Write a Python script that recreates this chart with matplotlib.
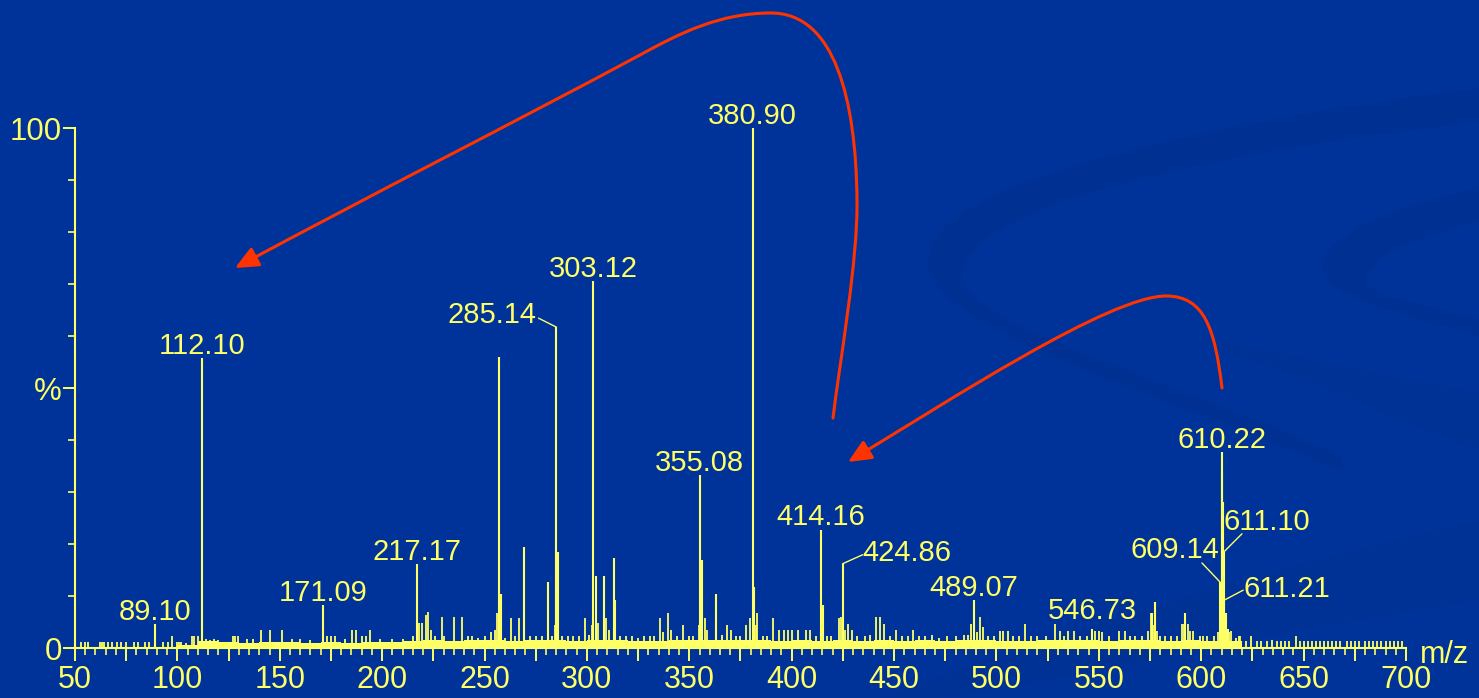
import matplotlib
matplotlib.use('Agg')
import matplotlib.pyplot as plt
from matplotlib.path import Path
from matplotlib.patches import PathPatch, FancyArrowPatch
from matplotlib.ticker import MultipleLocator, FuncFormatter

# main peaks (m/z, relative intensity %)
peak_mz = [89.10, 112.10, 171.09, 217.17, 257.1, 258.1, 269.1, 280.9, 285.14, 286.1,
           303.12, 304.2, 308.4, 313.1, 313.8, 355.08, 356.0, 363.0, 380.90, 381.5,
           414.16, 415.1, 424.86, 489.07, 546.73, 576.2, 577.4, 592.3,
           609.14, 609.9, 610.22, 610.6, 611.10, 611.21, 611.9, 612.9]
peak_int = [4.7, 55.8, 8.3, 16.2, 56.0, 10.4, 19.4, 12.6, 61.7, 18.5,
            70.6, 13.9, 13.9, 17.3, 9.2, 33.3, 17.0, 10.4, 100.0, 11.7,
            22.7, 8.3, 16.2, 9.2, 3.6, 6.7, 8.8, 6.8,
            12.7, 34.0, 37.7, 28.0, 18.5, 9.2, 6.8, 3.6]

# labelled peaks
label_mz = [89.10, 112.10, 171.09, 217.17, 285.14, 303.12, 355.08, 380.90, 414.16,
            424.86, 489.07, 546.73, 609.14, 610.22, 611.10, 611.21]

# small noise peaks
noise_mz = [53, 55, 56.5, 62, 63, 64, 66, 68, 70.5, 72.5, 75, 79, 81, 84, 86, 93, 95.5, 97.5,
            100, 101, 102, 104, 107, 108, 110, 114, 116, 118, 120, 127, 128, 129.5, 134, 137,
            141, 145, 151, 156, 160, 165, 173, 175, 177, 182, 185.5, 187, 190, 192, 194, 199,
            205, 210, 215, 217.8, 219.5, 221.6, 222.5, 224, 226, 229, 230, 235, 239, 242, 244,
            247, 250, 253, 255, 256.2, 260, 263, 265, 267, 272, 275, 278, 283, 284.5, 288, 291,
            293, 296, 299, 301, 302.5, 305.5, 309.3, 311, 316, 319, 322, 325, 328, 331, 333,
            335.5, 337, 339.6, 341, 344, 347, 350, 352, 354.5, 357.5, 358.5, 366, 368.5, 370.6,
            373, 375, 377.5, 379.5, 382.5, 383.2, 386, 388, 391, 393.6, 396, 398, 400, 403, 407,
            409, 412, 417, 419, 423, 424.2, 426, 427.3, 429.6, 432, 436, 438, 441, 443, 445, 448,
            451, 454, 457, 459.4, 462, 465, 468.7, 472, 476, 480, 484, 486, 487.8, 490.5, 492,
            493.6, 496, 499, 501.6, 503, 505.6, 508, 511, 514, 517, 520, 524, 528.6, 530.8, 533,
            535, 537.7, 541, 544, 548, 550, 551.5, 555, 559.7, 563, 565, 567.8, 571, 574, 575.4,
            576.8, 578.5, 580, 582.4, 585, 588, 590.7, 591.5, 593.5, 594.6, 596, 599.6, 601, 603,
            606, 608, 613.5, 614.7, 617, 618.4, 619, 622, 624.4, 627, 629, 632, 634.5, 637, 639,
            641, 643, 646.3, 648, 650, 652, 654, 656, 658, 660, 662, 664, 666, 668, 671, 673, 675,
            677, 680, 682, 684, 686, 688, 690, 692, 694, 696, 698]
noise_int = [1.2, 1.2, 1.2, 1.2, 1.2, 1.2, 1.2, 1.2, 1.2, 1.2, 1.2, 1.2, 1.2, 1.2, 1.2, 1.2, 1.2, 2.3,
             1.2, 1.2, 1.2, 1.0, 2.3, 2.3, 2.3, 1.8, 1.6, 1.8, 1.6, 2.3, 2.3, 2.3, 1.8, 1.8,
             3.5, 3.5, 3.5, 1.8, 1.8, 1.6, 2.3, 2.3, 2.3, 1.8, 3.5, 3.5, 2.3, 2.3, 3.5, 1.8,
             1.8, 1.8, 2.3, 4.8, 4.8, 6.4, 7.0, 3.5, 2.3, 6.0, 2.3, 6.0, 6.0, 2.3, 2.3,
             2.0, 2.3, 3.0, 3.5, 6.8, 2.0, 5.8, 2.3, 5.8, 2.3, 2.3, 2.3, 2.3, 4.5, 2.3, 2.3,
             2.3, 2.3, 5.8, 2.5, 4.5, 4.8, 5.8, 3.5, 2.3, 2.3, 2.3, 2.0, 2.3, 2.3, 2.3,
             5.8, 3.0, 6.8, 3.5, 2.3, 4.5, 2.3, 2.3, 4.5, 5.8, 3.5, 2.5, 4.5, 3.5,
             2.3, 2.3, 4.5, 5.8, 4.5, 6.8, 2.3, 2.3, 5.8, 3.5, 3.5, 3.5, 3.5, 3.5, 3.5,
             3.5, 2.3, 2.3, 2.3, 5.8, 6.0, 3.5, 4.6, 3.5, 2.3, 2.3, 2.5, 6.0, 6.0, 4.6, 2.3,
             3.5, 2.3, 2.3, 3.5, 2.3, 2.3, 2.5, 2.0, 2.3, 2.3, 2.5, 2.5, 4.6, 3.0, 6.0,
             4.0, 2.3, 2.3, 3.3, 3.3, 3.3, 2.3, 2.3, 4.6, 2.3, 2.4, 2.3, 4.6, 3.3, 2.3,
             3.3, 3.3, 2.3, 2.3, 3.3, 3.3, 3.0, 2.3, 3.3, 3.3, 2.3, 2.4, 2.3, 3.3, 6.8,
             4.5, 3.3, 2.3, 2.4, 2.3, 2.3, 4.6, 4.6, 4.6, 3.3, 3.3, 2.4, 2.4, 2.4,
             2.3, 3.0, 3.0, 3.3, 2.0, 2.3, 2.4, 1.3, 2.3, 1.3, 1.3, 1.3, 1.5, 1.3, 1.3,
             1.3, 1.3, 2.3, 1.3, 1.3, 1.3, 1.3, 1.3, 1.3, 1.3, 1.3, 1.3, 1.3, 1.3, 1.3, 1.3, 1.3,
             1.3, 1.3, 1.3, 1.3, 1.3, 1.3, 1.3, 1.3, 1.3, 1.3, 1.3]

# dense noise floor, 10 m/z bins from 100 to 620
floor_edges = list(range(100, 630, 10))
floor_level = [0.6, 1.3, 1.2, 1.0, 1.2, 1.2, 1.0, 1.2, 1.0, 1.2, 1.2, 1.3, 1.5, 1.4, 1.5, 1.5,
               1.4, 1.5, 1.5, 1.4, 1.5, 1.5, 1.4, 1.4, 1.5, 1.6, 1.5, 1.5, 1.5, 1.4, 1.5, 1.4,
               1.6, 1.4, 1.5, 1.4, 1.5, 1.4, 1.6, 1.5, 1.4, 1.4, 1.5, 1.5, 1.5, 1.4, 1.5, 1.6,
               1.4, 1.5, 1.4, 1.3]

BG = '#003399'
YEL = '#FFFF66'
RED = '#FF3300'
DARK = '#003090'
FONT = 'Liberation Sans'

fig = plt.figure(figsize=(14.79, 6.98), dpi=100, facecolor=BG)

# background swooshes (figure pixel coords)
bg = fig.add_axes([0, 0, 1, 1], zorder=0)
bg.set_xlim(0, 1479)
bg.set_ylim(698, 0)
bg.axis('off')
C4 = Path.CURVE4
swooshes = [
    [(1479, 88), (1150, 130), (925, 190), (928, 262), (930, 330), (1150, 390), (1345, 472),
     (1340, 455), (1150, 372), (962, 322), (962, 276), (965, 215), (1150, 160), (1479, 122)],
    [(1479, 188), (1380, 208), (1320, 240), (1322, 268), (1325, 300), (1420, 318), (1479, 336),
     (1479, 318), (1430, 305), (1368, 296), (1367, 282), (1368, 255), (1420, 236), (1479, 222)],
    [(1180, 335), (1300, 355), (1400, 380), (1479, 392), (1479, 420), (1479, 440), (1479, 450),
     (1400, 420), (1300, 375), (1180, 335), (1180, 335), (1180, 335), (1180, 335), (1180, 335)],
    [(880, 698), (1100, 620), (1300, 560), (1479, 520), (1479, 560), (1479, 580), (1479, 600),
     (1300, 630), (1100, 670), (960, 698), (930, 698), (900, 698), (880, 698), (880, 698)],
]
for i, pts in enumerate(swooshes):
    codes = [Path.MOVETO] + [C4] * 6 + [Path.LINETO] + [C4] * 6
    bg.add_patch(PathPatch(Path(pts, codes), facecolor=DARK, edgecolor='none',
                           alpha=0.85 if i < 2 else 0.55))

# spectrum axes
ax = fig.add_axes([75 / 1479, 50 / 698, 1331 / 1479, 520 / 698], zorder=1)
ax.patch.set_alpha(0)
ax.set_xlim(50, 700)
ax.set_ylim(0, 100)

ax.stairs(floor_level, floor_edges, fill=True, color=YEL, lw=0)
ax.vlines(noise_mz, 0, noise_int, color=YEL, lw=1.3)
ax.vlines(peak_mz, 0, peak_int, color=YEL, lw=1.5)

for s in ['top', 'right']:
    ax.spines[s].set_visible(False)
for s in ['left', 'bottom']:
    ax.spines[s].set_color(YEL)
    ax.spines[s].set_linewidth(1.5)

ax.xaxis.set_major_locator(MultipleLocator(25))
ax.xaxis.set_minor_locator(MultipleLocator(5))
ax.xaxis.set_major_formatter(FuncFormatter(lambda v, p: f'{v:.0f}' if v % 50 == 0 else ''))
ax.set_yticks([0, 50, 100])
ax.set_yticklabels(['0', '%', '100'])
ax.yaxis.set_minor_locator(MultipleLocator(10))
ax.tick_params(axis='x', which='major', length=9.4, width=1.4, color=YEL, labelcolor=YEL,
               labelsize=22, pad=3)
ax.tick_params(axis='x', which='minor', length=5, width=1.2, color=YEL)
ax.tick_params(axis='y', which='major', length=8.6, width=1.4, color=YEL, labelcolor=YEL,
               labelsize=22.5, pad=1)
ax.tick_params(axis='y', which='minor', length=5, width=1.2, color=YEL)
for t in ax.get_xticklabels() + ax.get_yticklabels():
    t.set_fontfamily(FONT)

ax.annotate('m/z', xy=(700, 0), xytext=(14, -15), textcoords='offset pixels',
            ha='left', va='baseline', color=YEL, fontsize=22, family=FONT)

# label placement: (dx, dy, ha) in pixels from peak top, plus leader start
label_pos = {
    285.14: (-20, 4, 'right', (-18, 9)),
    424.86: (20, 3, 'left', (20, 9)),
    609.14: (-1, 24, 'right', (-18, 19)),
    611.10: (0, 22, 'left', (18, 18)),
    611.21: (19, 3, 'left', (19, 10)),
    546.73: (0, 10, 'center', None),
    414.16: (0, 5, 'center', None),
}
for mz in label_mz:
    h = peak_int[peak_mz.index(mz)]
    dx, dy, ha, lead = label_pos.get(mz, (0, 4, 'center', None))
    ax.annotate(f'{mz:.2f}', xy=(mz, h), xytext=(dx, dy), textcoords='offset pixels',
                ha=ha, va='baseline', color=YEL, fontsize=21, family=FONT)
    if lead is not None:
        ax.annotate('', xy=(mz, h), xytext=lead, textcoords='offset pixels',
                    arrowprops=dict(arrowstyle='-', color=YEL, lw=1.0, shrinkA=0, shrinkB=0))

# red curved arrows (figure pixel coords)
top = fig.add_axes([0, 0, 1, 1], zorder=2)
top.patch.set_alpha(0)
top.set_xlim(0, 1479)
top.set_ylim(698, 0)
top.axis('off')
arrow1 = [(833, 418), (840, 360), (858, 260), (857, 200), (856, 100), (835, 13), (771, 13),
          (720, 13), (680, 33), (640, 55), (500, 130), (380, 190), (235, 268)]
arrow2 = [(1222, 388), (1215, 330), (1205, 296), (1166, 296), (1110, 296), (950, 400), (848, 462)]
for pts in [arrow1, arrow2]:
    codes = [Path.MOVETO] + [C4] * (len(pts) - 1)
    top.add_patch(FancyArrowPatch(path=Path(pts, codes),
                                  arrowstyle='-|>,head_length=1.0,head_width=0.45',
                                  mutation_scale=14, color=RED, lw=2.2,
                                  shrinkA=0, shrinkB=0))

fig.savefig('out.png', dpi=100, facecolor=BG)
